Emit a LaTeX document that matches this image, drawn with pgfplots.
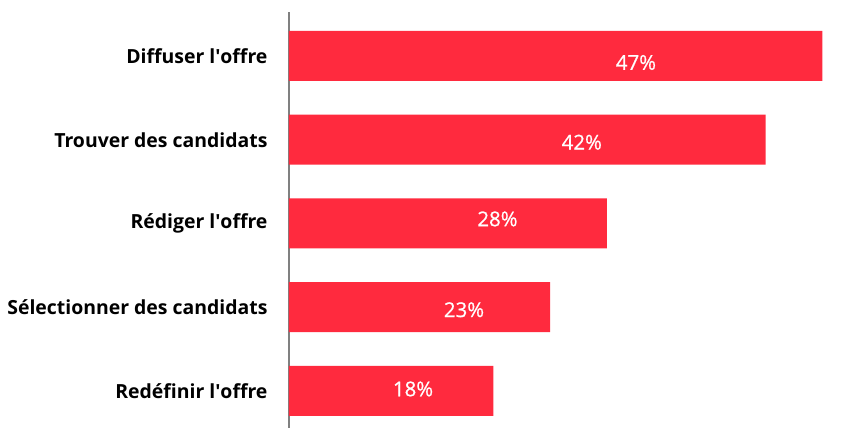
\documentclass[border=0pt]{standalone}
\usepackage{fontspec}
\setmainfont{Open Sans}
\newfontfamily\valuefont{Open Sans}[FakeBold=0.7]
\usepackage{pgfplots}
\pgfplotsset{compat=1.18}
\definecolor{barred}{RGB}{255,42,62}
\begin{document}
\begin{tikzpicture}
\begin{axis}[
  scale only axis,
  width=551bp, height=416bp,
  xmin=0, xmax=48.55,
  ymin=-0.442, ymax=4.525,
  axis x line=none,
  axis y line*=left,
  y axis line style={draw=gray, line width=1.5bp},
  ytick={0,1,2,3,4},
  yticklabels={Redéfinir l\textquotesingle offre\ , Sélectionner des candidats, Rédiger l\textquotesingle offre, Trouver des candidats, Diffuser l\textquotesingle offre},
  yticklabel style={font=\fontsize{19.5}{23}\selectfont\bfseries, black, xshift=-18bp},
  ytick style={draw=none},
  clip=false,
]
\addplot[xbar, bar width=50bp, fill=barred, draw=none] coordinates {
  (18,0) (23,1) (28,2) (42,3) (47,4)
};
\addplot[draw=none, mark=none, nodes near coords, point meta=explicit symbolic,
  every node near coord/.style={anchor=center, text=white, font=\valuefont\fontsize{20.5}{24}\selectfont}]
  coordinates {
  (10.93,0.024) [18\%]
  (15.42,0.970) [23\%]
  (18.37,2.054) [28\%]
  (25.80,2.970) [42\%]
  (30.57,3.922) [47\%]
};
\end{axis}
\pgfresetboundingbox
\path[use as bounding box] (-289bp,0) rectangle (558bp,428bp);
\end{tikzpicture}
\end{document}
